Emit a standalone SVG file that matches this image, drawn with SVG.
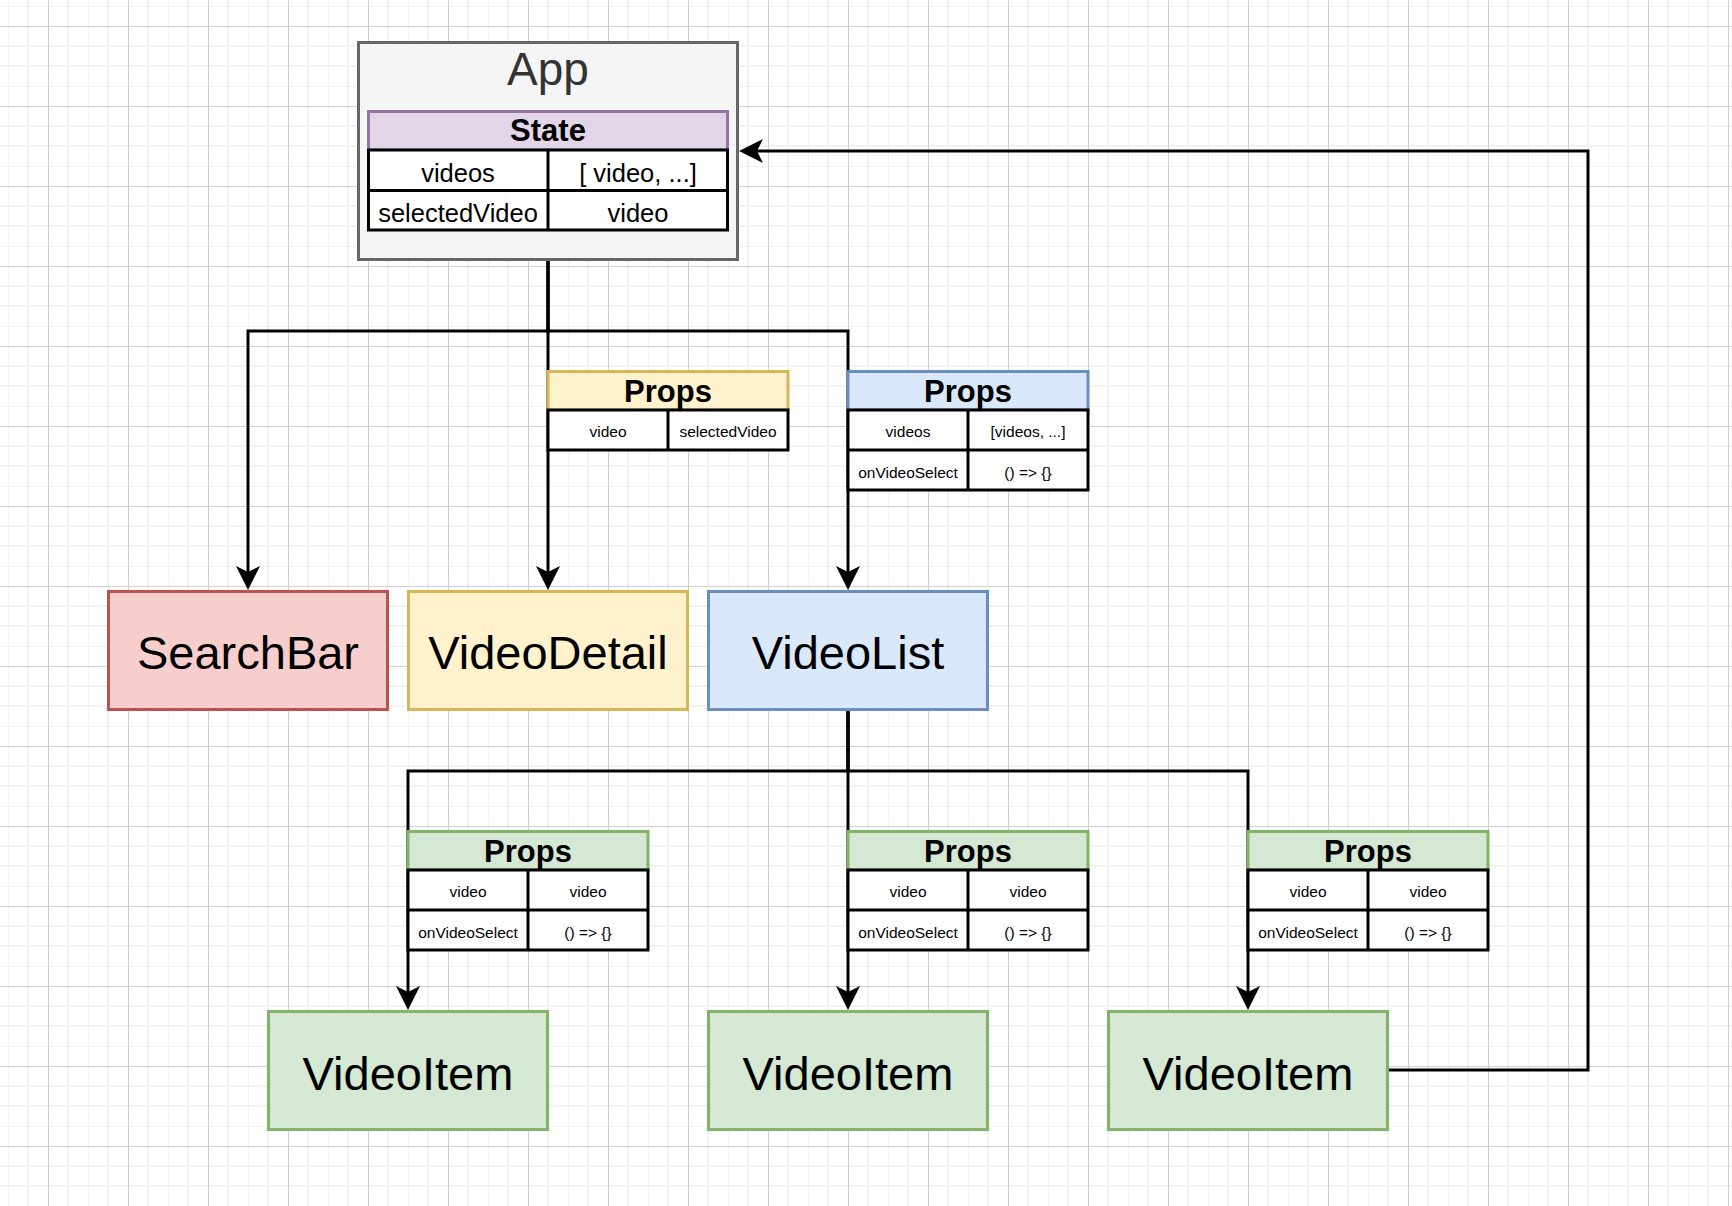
<svg xmlns="http://www.w3.org/2000/svg" width="1732" height="1206" viewBox="0 0 1732 1206">
<defs>
<pattern id="grid" x="8" y="6" width="80" height="80" patternUnits="userSpaceOnUse">
<rect x="0" y="0" width="80" height="80" fill="#ffffff"/>
<rect x="-1" y="0" width="2" height="80" fill="#f2f2f2"/>
<rect x="19" y="0" width="2" height="80" fill="#f2f2f2"/>
<rect x="59" y="0" width="2" height="80" fill="#f2f2f2"/>
<rect x="0" y="-1" width="80" height="2" fill="#f2f2f2"/>
<rect x="0" y="39" width="80" height="2" fill="#f2f2f2"/>
<rect x="0" y="59" width="80" height="2" fill="#f2f2f2"/>
<rect x="40" y="0" width="1" height="80" fill="#d0d0d0"/>
<rect x="0" y="20" width="80" height="1" fill="#d0d0d0"/>
</pattern>
<marker id="arrow" viewBox="0 0 24 24" refX="7" refY="12" markerWidth="24" markerHeight="24" markerUnits="userSpaceOnUse" orient="auto">
<path d="M0,0 L24,12 L0,24 L6,12 Z" fill="#000000"/>
</marker>
</defs>
<style>
.edge{fill:none;stroke:#000000;stroke-width:3;marker-end:url(#arrow)}
.edge0{fill:none;stroke:#000000;stroke-width:3}
.node{stroke-width:3}
.red{fill:#f8cecc;stroke:#b85450}
.yellow{fill:#fff2cc;stroke:#d6b656}
.blue{fill:#dae8fc;stroke:#6c8ebf}
.green{fill:#d5e8d4;stroke:#82b366}
.purple{fill:#e1d5e7;stroke:#9673a6}
.app{fill:#f5f5f5;stroke:#666666}
.cell{fill:#ffffff;stroke:#000000;stroke-width:3}
.div{stroke:#000000;stroke-width:3}
text{font-family:"Liberation Sans",Arial,Helvetica,sans-serif;text-anchor:middle;fill:#000000}
.big{font-size:47px}
.apptxt{font-size:46px;fill:#333333}
.hdr{font-size:31px;font-weight:bold}
.st{font-size:25.5px}
.pt{font-size:15.5px}
</style>
<rect x="0" y="0" width="1732" height="1206" fill="url(#grid)"/>

<g id="connectors">
<path class="edge" d="M548,261 V331 H248 V573"/>
<path class="edge" d="M548,261 V573"/>
<path class="edge" d="M548,261 V331 H848 V573"/>
<path class="edge" d="M848,711 V771 H408 V993"/>
<path class="edge" d="M848,711 V993"/>
<path class="edge" d="M848,711 V771 H1248 V993"/>
<path class="edge" d="M1389,1070 H1588 V151 H756"/>
</g>

<g id="App">
<rect class="node app" x="358.5" y="42.5" width="379" height="217"/>
<text class="apptxt" x="548" y="85">App</text>
<g id="State">
<rect class="node purple" x="368.5" y="111.5" width="359" height="38.5"/>
<text class="hdr" x="548" y="141">State</text>
<rect class="cell" x="368.5" y="150" width="359" height="80"/>
<line class="div" x1="368.5" y1="190.5" x2="727.5" y2="190.5"/>
<line class="div" x1="548" y1="150" x2="548" y2="230"/>
<text class="st" x="458" y="182">videos</text>
<text class="st" x="638" y="182">[ video, ...]</text>
<text class="st" x="458" y="222">selectedVideo</text>
<text class="st" x="638" y="222">video</text>
</g>
</g>

<g id="PropsVideoDetail">
<rect class="node yellow" x="548" y="371.5" width="240" height="38.5"/>
<text class="hdr" x="668" y="402">Props</text>
<rect class="cell" x="548" y="410" width="240" height="40"/>
<line class="div" x1="668" y1="410" x2="668" y2="450"/>
<text class="pt" x="608" y="437">video</text>
<text class="pt" x="728" y="437">selectedVideo</text>
</g>

<g id="PropsVideoList">
<rect class="node blue" x="848" y="371.5" width="240" height="38.5"/>
<text class="hdr" x="968" y="402">Props</text>
<rect class="cell" x="848" y="410" width="240" height="80"/>
<line class="div" x1="848" y1="450" x2="1088" y2="450"/>
<line class="div" x1="968" y1="410" x2="968" y2="490"/>
<text class="pt" x="908" y="437">videos</text>
<text class="pt" x="1028" y="437">[videos, ...]</text>
<text class="pt" x="908" y="478">onVideoSelect</text>
<text class="pt" x="1028" y="478">() =&gt; {}</text>
</g>

<g id="SearchBar">
<rect class="node red" x="108.5" y="591.5" width="279" height="118"/>
<text class="big" x="248" y="669">SearchBar</text>
</g>
<g id="VideoDetail">
<rect class="node yellow" x="408.5" y="591.5" width="279" height="118"/>
<text class="big" x="548" y="669">VideoDetail</text>
</g>
<g id="VideoList">
<rect class="node blue" x="708.5" y="591.5" width="279" height="118"/>
<text class="big" x="848" y="669">VideoList</text>
</g>

<g id="PropsItem1">
<rect class="node green" x="408" y="831.5" width="240" height="38.5"/>
<text class="hdr" x="528" y="862">Props</text>
<rect class="cell" x="408" y="870" width="240" height="80"/>
<line class="div" x1="408" y1="910" x2="648" y2="910"/>
<line class="div" x1="528" y1="870" x2="528" y2="950"/>
<text class="pt" x="468" y="897">video</text>
<text class="pt" x="588" y="897">video</text>
<text class="pt" x="468" y="938">onVideoSelect</text>
<text class="pt" x="588" y="938">() =&gt; {}</text>
</g>
<g id="PropsItem2">
<rect class="node green" x="848" y="831.5" width="240" height="38.5"/>
<text class="hdr" x="968" y="862">Props</text>
<rect class="cell" x="848" y="870" width="240" height="80"/>
<line class="div" x1="848" y1="910" x2="1088" y2="910"/>
<line class="div" x1="968" y1="870" x2="968" y2="950"/>
<text class="pt" x="908" y="897">video</text>
<text class="pt" x="1028" y="897">video</text>
<text class="pt" x="908" y="938">onVideoSelect</text>
<text class="pt" x="1028" y="938">() =&gt; {}</text>
</g>
<g id="PropsItem3">
<rect class="node green" x="1248" y="831.5" width="240" height="38.5"/>
<text class="hdr" x="1368" y="862">Props</text>
<rect class="cell" x="1248" y="870" width="240" height="80"/>
<line class="div" x1="1248" y1="910" x2="1488" y2="910"/>
<line class="div" x1="1368" y1="870" x2="1368" y2="950"/>
<text class="pt" x="1308" y="897">video</text>
<text class="pt" x="1428" y="897">video</text>
<text class="pt" x="1308" y="938">onVideoSelect</text>
<text class="pt" x="1428" y="938">() =&gt; {}</text>
</g>

<g id="VideoItem1">
<rect class="node green" x="268.5" y="1011.5" width="279" height="118"/>
<text class="big" x="408" y="1090">VideoItem</text>
</g>
<g id="VideoItem2">
<rect class="node green" x="708.5" y="1011.5" width="279" height="118"/>
<text class="big" x="848" y="1090">VideoItem</text>
</g>
<g id="VideoItem3">
<rect class="node green" x="1108.5" y="1011.5" width="279" height="118"/>
<text class="big" x="1248" y="1090">VideoItem</text>
</g>
</svg>
